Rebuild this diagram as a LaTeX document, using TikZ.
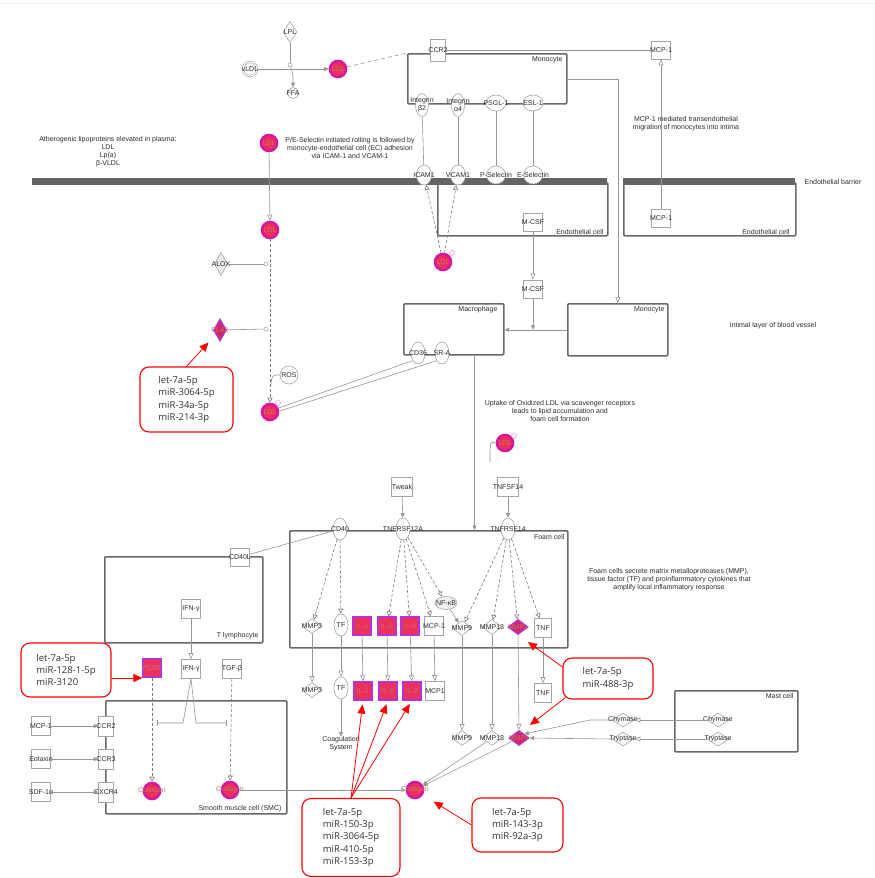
\documentclass[tikz,border=0pt]{standalone}
\usepackage{fontspec}
\setmainfont{Liberation Sans}
\newfontfamily\mirfont{Open Sans}
\usetikzlibrary{shapes.geometric,arrows.meta,calc}

\definecolor{magc}{RGB}{214,22,160}
\definecolor{redc}{RGB}{236,48,92}
\definecolor{violc}{RGB}{185,50,215}
\definecolor{mdfill}{RGB}{205,40,105}
\definecolor{boxc}{RGB}{165,165,165}
\definecolor{linec}{RGB}{150,150,150}
\definecolor{dashc}{RGB}{120,120,120}
\definecolor{cellc}{RGB}{105,105,105}
\definecolor{barc}{RGB}{100,100,100}
\definecolor{txtc}{RGB}{45,45,45}
\definecolor{mtxt}{RGB}{200,115,100}

\tikzset{
  lbl/.style={font=\fontsize{7}{8}\selectfont, text=txtc, align=center, inner sep=0pt},
  tx/.style={label={[lbl]center:#1}},
  mtx/.style={label={[lbl,text=mtxt]center:#1}},
  gbox/.style={rectangle, draw=boxc, fill=white, line width=0.6pt, minimum width=19pt, minimum height=19pt, inner sep=0pt},
  gell/.style={ellipse, draw=boxc, fill=white, line width=0.6pt, minimum width=14pt, minimum height=22pt, inner sep=0pt},
  gdia/.style={diamond, draw=boxc, fill=white, line width=0.6pt, minimum width=20pt, minimum height=15pt, inner sep=0pt},
  gcirc/.style={circle, draw=boxc, fill=white, line width=0.6pt, minimum size=18pt, inner sep=0pt},
  jn/.style={circle, draw=boxc, fill=white, line width=0.6pt, minimum size=4pt, inner sep=0pt},
  mcirc/.style={circle, draw=magc, line width=2.6pt, fill=redc, minimum size=16pt, inner sep=0pt},
  mbox/.style={rectangle, draw=violc, line width=1.2pt, fill=redc, minimum size=18pt, inner sep=0pt},
  mdia/.style={diamond, draw=violc, line width=1.2pt, fill=mdfill, minimum width=20pt, minimum height=15pt, inner sep=0pt},
  oxm/.style={circle, draw=magc!45, fill=white, line width=0.6pt, minimum size=5pt, inner sep=0pt},
  cell/.style={rectangle, draw=cellc, line width=1.6pt, rounded corners=1pt, inner sep=0pt},
  ln/.style={draw=linec, line width=0.6pt},
  oa/.style={ln, -{Triangle[open, length=6pt, width=5pt]}},
  fa/.style={ln, -{Triangle[length=4.5pt, width=4pt]}},
  da/.style={draw=dashc, line width=0.6pt, dash pattern=on 3pt off 2pt, -{Triangle[open, length=5pt, width=5pt]}},
  ib/.style={ln, -{Bar[width=6pt]}},
  ra/.style={draw=red, line width=0.8pt, -{Triangle[length=9pt, width=8pt]}},
  mir/.style={draw=red, line width=1.1pt, rounded corners=9pt, fill=white, inner sep=0pt,
              font=\mirfont\fontsize{9.5}{12.3}\selectfont, align=left, text=black!80},
  note/.style={lbl}
}

\begin{document}
\begin{tikzpicture}[x=1pt,y=-1pt]
\fill[white] (0,0) rectangle (875,878);
\useasboundingbox (0,0) rectangle (875,878);
\draw[gray!12, line width=0.6pt] (0,3) -- (875,3);

% ---------- compartments ----------
\node[cell, minimum width=159pt, minimum height=50pt, anchor=north west] (mono1) at (407,53) {};
\node[cell, minimum width=170pt, minimum height=53pt, anchor=north west] (endo1) at (437,182) {};
\node[cell, minimum width=172pt, minimum height=53pt, anchor=north west] (endo2) at (623,182) {};
\node[cell, minimum width=100pt, minimum height=51pt, anchor=north west] (macro) at (403,303) {};
\node[cell, minimum width=100pt, minimum height=52pt, anchor=north west] (mono2) at (567,303) {};
\node[cell, minimum width=278pt, minimum height=117pt, anchor=north west] (foam) at (289,530) {};
\node[cell, minimum width=158pt, minimum height=86pt, anchor=north west] (tlym) at (104,556) {};
\node[cell, minimum width=181pt, minimum height=113pt, anchor=north west] (smc) at (105,700) {};
\node[cell, minimum width=123pt, minimum height=61pt, anchor=north west] (mast) at (674,690) {};

\node[lbl, anchor=north east] at ($(mono1.north east)+(-5,3)$) {Monocyte};
\node[lbl, anchor=south east] at ($(endo1.south east)+(-5,-2)$) {Endothelial cell};
\node[lbl, anchor=south east] at ($(endo2.south east)+(-7,-2)$) {Endothelial cell};
\node[lbl, anchor=north east] at ($(macro.north east)+(-7,3)$) {Macrophage};
\node[lbl, anchor=north east] at ($(mono2.north east)+(-4,3)$) {Monocyte};
\node[lbl, anchor=north east] at ($(foam.north east)+(-4,4)$) {Foam cell};
\node[lbl, anchor=south east] at ($(tlym.south east)+(-5,-4)$) {T lymphocyte};
\node[lbl, anchor=south east] at ($(smc.south east)+(-6,-2)$) {Smooth muscle cell (SMC)};
\node[lbl, anchor=north east] at ($(mast.north east)+(-5,3)$) {Mast cell};

% endothelial barrier
\fill[barc] (32,178) rectangle (607,185);
\fill[barc] (623,178) rectangle (795,185);

% ---------- notes ----------
\node[note] at (108,152) {Atherogenic lipoproteins elevated in plasma:\\LDL\\Lp(a)\\β-VLDL};
\node[note] at (350,148) {P/E-Selectin initiated rolling is followed by\\monocyte-endothelial cell (EC) adhesion\\via ICAM-1 and VCAM-1};
\node[note] at (686,124) {MCP-1 mediated transendothelial\\migration of monocytes into intima};
\node[note] at (833,182) {Endothelial barrier};
\node[note] at (773,326) {Intimal layer of blood vessel};
\node[note] at (560,411) {Uptake of Oxidized LDL via scavenger receptors\\leads to lipid accumulation and\\foam cell formation};
\node[note] at (669,580) {Foam cells secrete matrix metalloproteases (MMP),\\tissue factor (TF) and proinflammatory cytokines that\\amplify local inflammatory response};

% ---------- plasma ----------
\node[gcirc, double, double distance=1pt, minimum size=14pt, tx=vLDL] (vldl) at (250,69) {};
\node[gdia, minimum width=14pt, minimum height=21pt, tx=LPL] (lpl) at (290,32) {};
\node[jn] (jn1) at (290,65) {};
\node[gcirc, minimum size=11pt, tx=FFA] (ffa) at (293,93) {};
\node[mcirc, mtx=LDL] (ldl1) at (338,69) {};
\draw[fa] (vldl) -- (ldl1);
\draw[ln] (lpl) -- (jn1);
\draw[fa] (jn1) .. controls (293,74) .. (ffa);
\draw[ln, dash pattern=on 4pt off 3pt] (ldl1) -- (mono1.north west);

\node[gbox, minimum width=15pt, minimum height=22pt, tx=CCR2] (ccr2) at (438,50) {};
\node[gbox, minimum height=18pt, tx=MCP-1] (mcp1a) at (661,50) {};
\draw[ln] (ccr2) -- (mcp1a);

\node[gell, minimum width=13pt, minimum height=23pt, tx={Integrin\\β2}] (itgb2) at (422,105) {};
\node[gell, minimum width=13pt, minimum height=23pt, tx={Integrin\\α4}] (itga4) at (458,105) {};
\node[gell, minimum width=20pt, minimum height=16pt, tx=PSGL-1] (psgl) at (496,103) {};
\node[gell, minimum width=20pt, minimum height=16pt, tx=ESL-1] (esl) at (533,103) {};
\node[gell, minimum width=15pt, minimum height=20pt, tx=ICAM1] (icam) at (424,175) {};
\node[gell, minimum width=15pt, minimum height=20pt, tx=VCAM1] (vcam) at (458,175) {};
\node[gell, minimum width=19pt, minimum height=18pt, tx=P-Selectin] (psel) at (496,175) {};
\node[gell, minimum width=19pt, minimum height=18pt, tx=E-Selectin] (esel) at (533,175) {};
\draw[ln] (itgb2) -- (icam);
\draw[ln] (itga4) -- (vcam);
\draw[ln] (psgl) -- (psel);
\draw[ln] (esl) -- (esel);

\node[gbox, minimum height=18pt, tx=MCP-1] (mcp1b) at (661,218) {};
\draw[oa] (mcp1b) -- (mcp1a);
\draw[oa] (mono1.east) -| (mono2.north);

% ---------- LDL oxidation ----------
\node[mcirc, mtx=LDL] (ldl2) at (269,143) {};
\node[mcirc, mtx=LDL] (ldl3) at (270,230) {};
\node[mcirc, mtx=LDL] (ldl4) at (270,412) {};
\node[oxm] (ox4) at ($(ldl4)+(8,-9)$) {};
\draw[oa] (ldl2) -- (ldl3);
\draw[da] (ldl3) -- (ldl4);
\node[jn] (jn2) at (266,264) {};
\node[jn] (jn3) at (266,329) {};
\node[gdia, fill=gray!15, minimum width=13pt, minimum height=23pt, tx=ALOX] (alox) at (221,264) {};
\node[mdia, minimum width=13pt, minimum height=22pt, mtx=PLA2] (pla2) at (220,330) {};
\draw[ln] (alox) -- (jn2);
\draw[ln] (pla2) -- (jn3);
\node[gcirc, tx=ROS] (ros) at (289,375) {};
\draw[ln] (ros.west) .. controls (272,375) .. (271,385);

\node[mcirc, mtx=LDL] (ldl5) at (443,262) {};
\node[oxm] (ox5) at ($(ldl5)+(9,-9)$) {};
\draw[da] (ldl5) -- (icam);
\draw[da] (ldl5) -- (vcam);

\node[gbox, minimum height=18pt, tx=M-CSF] (mcsf1) at (533,222) {};
\node[gbox, minimum height=18pt, tx=M-CSF] (mcsf2) at (533,289) {};
\draw[oa] (mcsf1) -- (mcsf2);
\draw[fa] (mono2.west) -- (mono2.west -| macro.east);
\draw[fa] (mcsf2) -- (mcsf2 |- mono2.west);

\node[gell, tx=CD36] (cd36) at (418,353) {};
\node[gell, tx=SR-A] (sra) at (442,353) {};
\draw[ln] (ldl4.25) -- (cd36.235);
\draw[ln] (ldl4.5) -- (sra.235);

\coordinate (mf) at ($(macro.south east)+(-30,0)$);
\draw[fa] (mf) -- (mf |- foam.north);

\node[mcirc, mtx=LDL] (ldl6) at (505,443) {};
\node[oxm] (ox6) at ($(ldl6)+(9,-7)$) {};
\coordinate (ldl6end) at (490,462);
\draw[ln] (ldl6.west) .. controls (490,441) .. (ldl6end);

% ---------- foam cell ----------
\node[gbox, minimum width=21pt, tx=Tweak] (tweak) at (402,487) {};
\node[gbox, minimum width=21pt, tx=TNFSF14] (tnfsf14) at (508,487) {};
\node[gell, tx=CD40] (cd40) at (340,529) {};
\node[gell, tx=TNFRSF12A] (tnfrsf12a) at (403,529) {};
\node[gell, tx=TNFRSF14] (tnfrsf14) at (508,529) {};
\draw[fa] (tweak) -- (tnfrsf12a);
\draw[fa] (tnfsf14) -- (tnfrsf14);
\node[gbox, minimum height=18pt, tx=CD40L] (cd40l) at (240,557) {};
\draw[ln] (cd40l) -- (cd40);

\node[gdia, tx=MMP3] (mmp3) at (312,626) {};
\node[gell, tx=TF] (tf) at (341,625) {};
\node[mbox, mtx=IL-1] (il1) at (362,626) {};
\node[mbox, mtx=IL-6] (il6) at (387,626) {};
\node[mbox, mtx=IL-8] (il8) at (410,626) {};
\node[gbox, tx=MCP-1] (mcp1f) at (434,626) {};
\node[gdia, tx=MMP9] (mmp9) at (462,628) {};
\node[gdia, tx=MMP13] (mmp13) at (492,627) {};
\node[mdia, mtx=MMP1] (mmp1) at (518,627) {};
\node[gbox, minimum width=17pt, tx=TNF] (tnf) at (543,628) {};
\node[ellipse, draw=boxc, fill=gray!12, line width=0.6pt, minimum width=22pt, minimum height=13pt, inner sep=0pt, tx=NF-κB] (nfkb) at (446,603) {};

\draw[da] (cd40) -- (mmp3);
\draw[da] (cd40) -- (tf);
\draw[da] (tnfrsf12a) -- (il6);
\draw[da] (tnfrsf12a) -- (il8);
\draw[da] (tnfrsf12a) -- (mcp1f);
\draw[da] (tnfrsf12a) -- (nfkb);
\draw[da] (tnfrsf14) -- (mmp9);
\draw[da] (tnfrsf14) -- (mmp13);
\draw[da] (tnfrsf14) -- (mmp1);
\draw[da] (tnfrsf14) -- (tnf);
\draw[fa] (nfkb) -- (mmp9);

% secreted products
\node[gdia, tx=MMP3] (mmp3b) at (312,690) {};
\node[gell, tx=TF] (tfb) at (341,688) {};
\node[mbox, mtx=IL-1] (il1b) at (363,691) {};
\node[mbox, mtx=IL-6] (il6b) at (388,691) {};
\node[mbox, mtx=IL-8] (il8b) at (412,691) {};
\node[gbox, tx=MCP1] (mcp1g) at (435,691) {};
\node[gbox, minimum width=17pt, tx=TNF] (tnfb) at (543,693) {};
\node[gdia, tx=MMP9] (mmp9b) at (462,738) {};
\node[gdia, tx=MMP13] (mmp13b) at (492,738) {};
\node[mdia, mtx=MMP1] (mmp1b) at (519,738) {};
\draw[oa] (mmp3) -- (mmp3b);
\draw[oa] (tf) -- (tfb);
\draw[oa] (il1) -- (il1b);
\draw[oa] (il6) -- (il6b);
\draw[oa] (il8) -- (il8b);
\draw[oa] (mcp1f) -- (mcp1g);
\draw[oa] (tnf) -- (tnfb);
\draw[oa] (mmp9) -- (mmp9b);
\draw[oa] (mmp13) -- (mmp13b);
\draw[oa] (mmp1) -- (mmp1b);
\node[lbl] (coag) at (341,744) {Coagulation\\System};
\draw[fa] (tfb) -- (coag);

\node[mcirc, mtx=Collagen] (col3) at (415,790) {};
\draw[fa] (mmp13b) -- (col3);
\draw[fa] (mmp1b) -- (col3);

% ---------- mast cell ----------
\node[gdia, minimum width=22pt, minimum height=14pt, tx=Chymase] (chym1) at (623,720) {};
\node[gdia, minimum width=22pt, minimum height=14pt, tx=Tryptase] (tryp1) at (623,739) {};
\node[gdia, minimum width=22pt, minimum height=14pt, tx=Chymase] (chym2) at (718,720) {};
\node[gdia, minimum width=22pt, minimum height=14pt, tx=Tryptase] (tryp2) at (718,739) {};
\draw[oa] (chym2) -- (chym1);
\draw[oa] (tryp2) -- (tryp1);
\draw[fa] (chym1.west) -- (590,720) -- (mmp1b.north east);
\draw[fa] (tryp1.west) -- (mmp1b.east);

% ---------- T lymphocyte and SMC ----------
\node[gbox, tx=IFN-γ] (ifng1) at (191,609) {};
\node[gbox, tx=IFN-γ] (ifng2) at (191,669) {};
\node[mbox, mtx=PDGF] (pdgf) at (152,668) {};
\node[gbox, tx=TGF-β] (tgfb) at (232,669) {};
\draw[oa] (ifng1) -- (ifng2);
\coordinate (inhL) at (157,723);
\coordinate (inhR) at (227,723);
\draw[ib] (ifng2.south) -- (183,723) -- (inhL);
\draw[ib] (ifng2.south) -- (196,723) -- (inhR);

\node[mcirc, mtx=Collagen] (col1) at (152,791) {};
\node[mcirc, mtx=Collagen] (col2) at (230,790) {};
\draw[da] (pdgf) -- (col1);
\draw[da] (tgfb) -- (col2);
\draw[ln, -{Triangle[open, length=4pt, width=4pt]}] (col2) -- (col3);

\node[gbox, minimum width=15pt, minimum height=20pt, tx=CCR2] (ccr2b) at (106,726) {};
\node[gbox, minimum width=15pt, minimum height=20pt, tx=CCR3] (ccr3) at (106,759) {};
\node[gbox, minimum width=15pt, minimum height=20pt, tx=CXCR4] (cxcr4) at (106,792) {};
\node[gbox, tx=MCP-1] (mcp1c) at (41,726) {};
\node[gbox, tx=Eotaxin] (eotaxin) at (41,759) {};
\node[gbox, tx=SDF-1α] (sdf) at (41,792) {};
\draw[fa] (mcp1c) -- (ccr2b);
\draw[fa] (eotaxin) -- (ccr3);
\draw[fa] (sdf) -- (cxcr4);

% ---------- miRNA callouts ----------
\node[mir, minimum width=93pt, minimum height=65pt] (m1) at (186.5,399.5) {let-7a-5p\\miR-3064-5p\\miR-34a-5p\\miR-214-3p};
\node[mir, minimum width=90pt, minimum height=54pt] (m2) at (66,670) {let-7a-5p\\miR-128-1-5p\\miR-3120};
\node[mir, minimum width=98pt, minimum height=78pt] (m3) at (351,837.5) {let-7a-5p\\miR-150-3p\\miR-3064-5p\\miR-410-5p\\miR-153-3p};
\node[mir, minimum width=91pt, minimum height=54pt] (m4) at (517.5,825) {let-7a-5p\\miR-143-3p\\miR-92a-3p};
\node[mir, minimum width=90pt, minimum height=41pt] (m5) at (608,678.5) {let-7a-5p\\miR-488-3p};

\draw[ra, shorten >=17pt] (m1.north) -- (pla2.center);
\coordinate (a2) at ($(m2.east)+(0,8)$);
\draw[ra] (a2) -- (a2 -| pdgf.west);
\draw[ra, shorten >=4pt] (m3.north) -- (il1b.south);
\draw[ra, shorten >=4pt] (m3.north) -- (il6b.south);
\draw[ra, shorten >=4pt] (m3.north) -- (il8b.south);
\draw[ra, shorten >=22pt] (m4.west) -- (col3.center);
\draw[ra] ($(m5.west)+(0,-11.5)$) -- ($(mmp1)+(10,15)$);
\draw[ra] ($(m5.south west)+(3,-2)$) -- ($(mmp1b)+(11,-13)$);
\end{tikzpicture}
\end{document}
